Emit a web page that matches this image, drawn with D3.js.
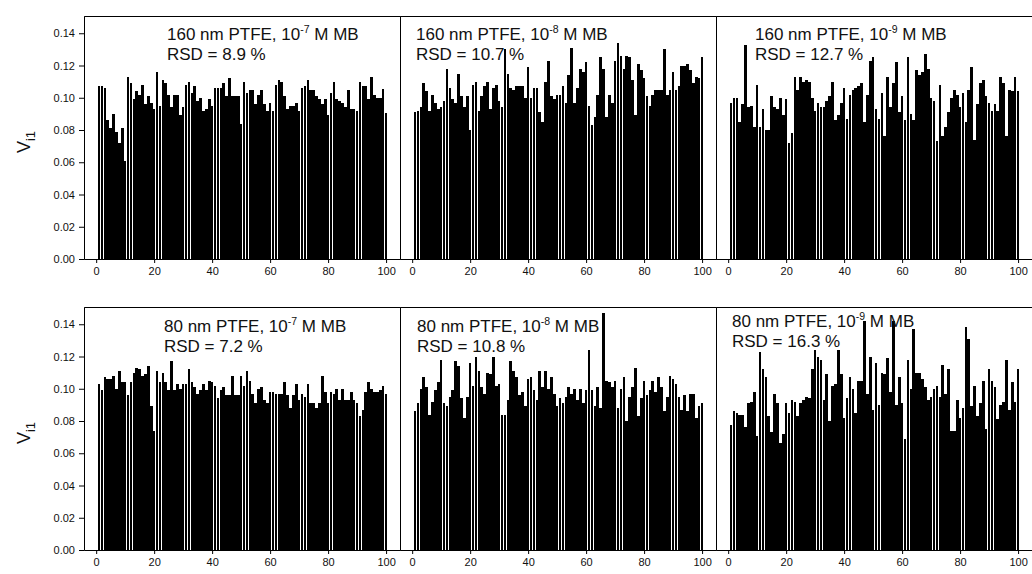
<!DOCTYPE html>
<html>
<head>
<meta charset="utf-8">
<script src="https://cdn.jsdelivr.net/npm/d3@7"></script>
<style>
  body { margin: 0; background: #fff; }
  svg { display: block; font-family: "Liberation Sans", Arial, sans-serif; }
  .tick text { fill: #111; }
</style>
</head>
<body>
<svg id="chart" width="1032" height="574"></svg>
<script>
// data: V_i1 for 100 consecutive measurements in each condition
const vals160_7 = [.107,.107,.106,.086,.081,.090,.079,.072,.081,.061, .113,.109,.099,.104,.102,.108,.096,.101,.097,.093,
  .116,.095,.111,.109,.102,.094,.102,.102,.089,.094, .108,.110,.103,.107,.098,.100,.092,.093,.099,.095,
  .106,.106,.106,.109,.101,.112,.101,.101,.101,.084, .110,.103,.105,.105,.096,.102,.105,.096,.092,.097,
  .092,.108,.111,.110,.101,.093,.095,.095,.097,.092, .106,.107,.111,.105,.105,.101,.099,.096,.099,.089,
  .103,.110,.099,.098,.097,.094,.105,.093,.093,.092, .110,.107,.107,.099,.113,.102,.100,.100,.1055,.0905]

const vals160_8 = [.091,.092,.094,.109,.104,.092,.102,.097,.093,.094, .098,.118,.106,.099,.097,.115,.101,.094,.101,.080,
  .108,.110,.092,.101,.107,.110,.093,.106,.108,.098, .094,.130,.115,.106,.105,.107,.107,.107,.100,.119,
  .100,.106,.106,.091,.085,.110,.123,.101,.099,.102, .102,.107,.097,.114,.131,.097,.106,.118,.116,.122,
  .095,.083,.088,.102,.125,.118,.088,.102,.097,.123, .134,.126,.118,.126,.125,.111,.089,.121,.117,.112,
  .101,.095,.102,.105,.105,.105,.130,.102,.105,.116, .105,.107,.120,.120,.121,.117,.109,.113,.112,.125]

const vals160_9 = [.0965,.100,.100,.085,.096,.133,.094,.095,.082,.108, .082,.093,.080,.080,.101,.094,.093,.100,.089,.099,
  .072,.078,.113,.105,.113,.110,.111,.110,.100,.092, .097,.094,.094,.098,.101,.110,.086,.089,.097,.106,
  .087,.102,.105,.106,.107,.109,.085,.102,.123,.125, .093,.087,.103,.076,.113,.094,.109,.122,.091,.101,
  .086,.125,.090,.086,.117,.114,.116,.127,.118,.100, .098,.073,.108,.076,.082,.091,.100,.105,.102,.094,
  .103,.085,.105,.119,.074,.096,.109,.111,.101,.097, .092,.096,.092,.113,.109,.076,.105,.104,.113,.104]

const vals80_7 = [.103,.099,.107,.106,.106,.108,.100,.111,.104,.104, .096,.104,.110,.113,.112,.108,.109,.114,.089,.074,
  .111,.104,.110,.104,.099,.117,.099,.103,.100,.103, .103,.112,.104,.101,.097,.099,.103,.099,.105,.104,
  .102,.094,.099,.101,.096,.096,.108,.096,.096,.108, .102,.111,.105,.097,.091,.100,.101,.093,.091,.098,
  .098,.097,.097,.097,.104,.096,.088,.096,.103,.093, .097,.095,.103,.091,.091,.088,.091,.108,.098,.091,
  .098,.097,.100,.093,.100,.093,.093,.098,.093,.091, .083,.087,.098,.104,.100,.098,.098,.099,.102,.097]

const vals80_8 = [.0865,.091,.100,.107,.101,.084,.092,.099,.104,.118, .091,.089,.095,.099,.117,.114,.094,.082,.095,.116,
  .102,.120,.111,.101,.097,.110,.109,.120,.102,.103, .084,.084,.093,.117,.111,.107,.096,.098,.089,.106,
  .107,.099,.093,.111,.101,.111,.100,.107,.097,.089, .094,.091,.095,.101,.097,.100,.093,.100,.091,.099,
  .124,.099,.089,.101,.088,.147,.105,.104,.101,.105, .088,.100,.107,.080,.095,.101,.113,.083,.094,.105,
  .096,.099,.105,.098,.107,.101,.086,.095,.108,.106, .103,.095,.087,.096,.086,.097,.097,.082,.089,.091]

const vals80_9 = [.0776,.0865,.085,.084,.084,.0765,.091,.092,.098,.071, .123,.112,.107,.083,.073,.097,.091,.0666,.072,.091,
  .085,.093,.092,.083,.091,.093,.095,.094,.112,.124, .120,.118,.093,.109,.080,.102,.103,.124,.109,.082,
  .094,.107,.100,.085,.105,.105,.142,.097,.120,.087, .116,.090,.110,.109,.119,.098,.142,.090,.107,.091,
  .069,.118,.100,.137,.110,.110,.106,.101,.093,.095, .100,.102,.095,.115,.097,.112,.074,.074,.093,.082,
  .088,.138,.131,.089,.102,.083,.091,.105,.075,.112, .105,.101,.081,.090,.092,.118,.087,.104,.092,.112]

const sizes = ['160', '160', '160', '80', '80', '80']
const exps = ['-7', '-8', '-9', '-7', '-8', '-9']
const rsds = ['8.9', '10.7', '12.7', '7.2', '10.8', '16.3']
const series = [vals160_7, vals160_8, vals160_9, vals80_7, vals80_8, vals80_9]

const yTicks = [0, 0.02, 0.04, 0.06, 0.08, 0.10, 0.12, 0.14]
const xTicks = [0, 20, 40, 60, 80, 100]

// layout
const panelW = 316, panelH = 243
const colX = [84, 400, 716]
const rowY = [16, 307]
const labelPos = [[167, 40], [416, 40], [755, 40], [164, 332], [417, 332], [732, 327]]

const svg = d3.select('#chart')

const x = d3.scaleLinear().domain([-4.2, 104.8]).range([0, panelW])
const y = d3.scaleLinear().domain([0, 0.1507]).range([panelH, 0])

series.forEach((vals, k) => {
  const col = k % 3, row = Math.floor(k / 3)
  const g = svg.append('g')
    .attr('transform', `translate(${colX[col]}, ${rowY[row]})`)

  // bars (crisp edges so the thin gaps fall irregularly, like the original bitmap)
  const barW = x(0.9) - x(0)
  g.append('g')
    .attr('shape-rendering', 'crispEdges')
    .selectAll('rect')
    .data(vals)
    .enter()
    .append('rect')
      .attr('x', (d, i) => x(i + 1) - barW / 2)
      .attr('y', d => y(d))
      .attr('width', barW)
      .attr('height', d => y(0) - y(d))
      .attr('fill', '#000')

  // frame
  g.append('path')
    .attr('d', `M0.5,${panelH + 0.5}V0.5H${panelW + 0.5}V${panelH + 0.5}`)
    .attr('fill', 'none')
    .attr('stroke', '#000')
    .attr('stroke-width', 1)

  // x axis
  const xAxis = d3.axisBottom(x)
    .tickValues(xTicks)
    .tickSize(4)
    .tickSizeOuter(0)
    .tickPadding(4)
  g.append('g')
    .attr('transform', `translate(0, ${panelH})`)
    .call(xAxis)
    .call(a => a.selectAll('text').attr('font-size', 11).attr('font-family', '"Liberation Sans", Arial, sans-serif'))

  // y axis only on the left column
  if (col === 0) {
    const yAxis = d3.axisLeft(y)
      .tickValues(yTicks)
      .tickFormat(d3.format('.2f'))
      .tickSize(5)
      .tickSizeOuter(0)
      .tickPadding(4)
    g.append('g')
      .call(yAxis)
      .call(a => a.selectAll('text').attr('font-size', 11).attr('font-family', '"Liberation Sans", Arial, sans-serif'))

    const lab = svg.append('text')
      .attr('transform', `translate(30, ${rowY[row] + 126}) rotate(-90)`)
      .attr('text-anchor', 'middle')
      .attr('font-size', 18)
      .attr('fill', '#111')
    lab.append('tspan').text('V')
    lab.append('tspan').attr('font-size', 13).attr('dy', 5).text('i1')
  }

  // annotation
  const [lx, ly] = labelPos[k]
  const t = svg.append('text')
    .attr('x', lx)
    .attr('y', ly)
    .attr('font-size', 17)
    .attr('fill', '#111')
  t.append('tspan').text(`${sizes[k]} nm PTFE, 10`)
  t.append('tspan').attr('font-size', 10.5).attr('dy', -7).text(exps[k])
  t.append('tspan').attr('dy', 7).text(' M MB')

  svg.append('text')
    .attr('x', lx)
    .attr('y', ly + 20)
    .attr('font-size', 17)
    .attr('fill', '#111')
    .text(`RSD = ${rsds[k]} %`)
})
</script>
</body>
</html>
